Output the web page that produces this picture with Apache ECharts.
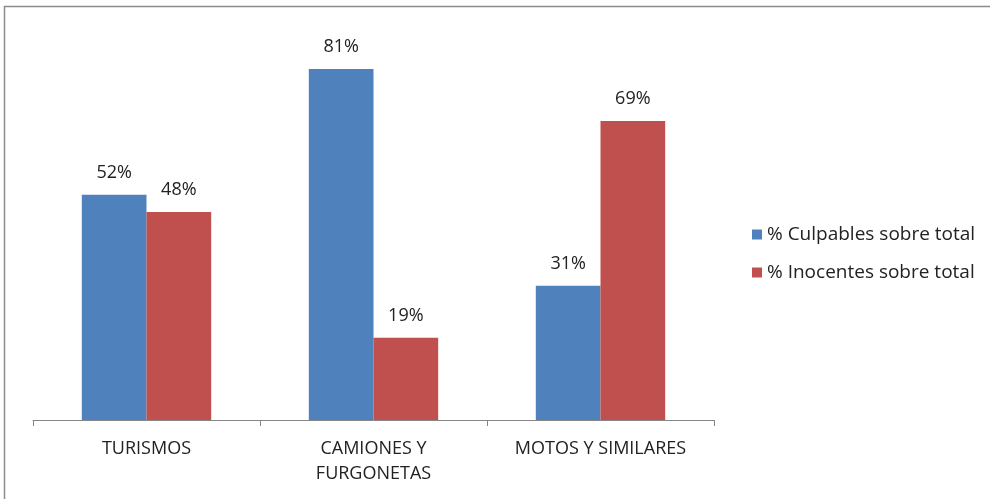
<!DOCTYPE html>
<html>
<head>
<meta charset="utf-8">
<script src="https://cdn.jsdelivr.net/npm/echarts@6/dist/echarts.min.js"></script>
<style>
  html, body { margin: 0; padding: 0; background: #fff; }
  #chart { width: 990px; height: 499px; }
</style>
</head>
<body>
<div id="chart"></div>
<script>
const categories = ["TURISMOS", "CAMIONES Y\nFURGONETAS", "MOTOS Y SIMILARES"];
const culpables = [52, 81, 31];
const inocentes = [48, 19, 69];
const seriesNames = ["% Culpables sobre total", "% Inocentes sobre total"];

const font = "'Open Sans', 'DejaVu Sans', sans-serif";

const labelStyle = {
  show: true,
  position: "top",
  distance: 13,
  formatter: "{c}%",
  color: "#222",
  fontFamily: font,
  fontSize: 18
};

let chart = echarts.init(document.getElementById("chart"), null, { renderer: "canvas" });

const option = {
  animation: false,
  backgroundColor: "#fff",
  graphic: [
    {
      type: "rect",
      shape: { x: 4.5, y: 6.5, width: 1100, height: 1100 },
      style: { fill: "none", stroke: "#8c8c8c", lineWidth: 1.5 },
      silent: true
    }
  ],
  legend: {
    orient: "vertical",
    left: 747,
    top: 220,
    itemWidth: 10,
    itemHeight: 10,
    itemGap: 19,
    icon: "rect",
    textStyle: { fontFamily: font, fontSize: 19, color: "#222" },
    data: seriesNames
  },
  grid: {
    left: 33,
    top: 30,
    width: 681,
    bottom: 79
  },
  xAxis: {
    type: "category",
    data: categories,
    axisLine: { lineStyle: { color: "#868686", width: 1 } },
    axisTick: { show: true, length: 6, lineStyle: { color: "#868686" } },
    axisLabel: {
      color: "#222",
      fontFamily: font,
      fontSize: 18,
      margin: 16,
      lineHeight: 25
    }
  },
  yAxis: {
    type: "value",
    min: 0,
    max: 90,
    show: false,
    splitLine: { show: false }
  },
  series: [
    {
      name: seriesNames[0],
      type: "bar",
      data: culpables,
      barGap: "0%",
      barCategoryGap: "43%",
      itemStyle: { color: "#4F81BD" },
      label: labelStyle
    },
    {
      name: seriesNames[1],
      type: "bar",
      data: inocentes,
      itemStyle: { color: "#C0504D" },
      label: labelStyle
    }
  ]
};

chart.setOption(option);
</script>
</body>
</html>
